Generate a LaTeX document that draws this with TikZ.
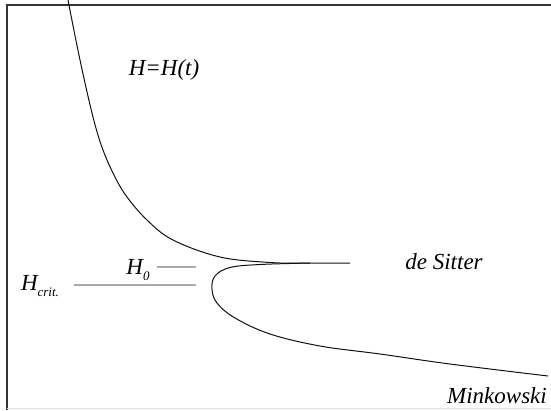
\documentclass[tikz,border=0pt]{standalone}
\usepackage{fontspec}
\setmainfont{Liberation Serif}
\definecolor{ink}{HTML}{111111}
\definecolor{rule}{HTML}{AAAAAA}
\newcommand{\lowsub}[1]{\raisebox{-0.55ex}{\fontsize{13}{14}\selectfont #1}}
\tikzset{
  lbl/.style={font=\fontsize{23}{26}\selectfont\itshape,inner sep=0pt},
  branch/.style={draw=ink,line width=1pt},
  level/.style={draw=rule,line width=1.2pt}
}

\begin{document}
\begin{tikzpicture}[x=1pt,y=-1pt]
  \useasboundingbox (0,0) rectangle (551,410);
  % frame
  \draw[line width=2pt,draw=ink!85] (7,410) -- (7,5) -- (551,5);
  \draw[line width=0.8pt,draw=black!12] (7,408.5) -- (551,408.5);

  % labels
  \node[lbl] (hubble) at (164,70) {H=H(t)};
  \node[lbl] (sitter) at (444,262) {de Sitter};
  \node[lbl,anchor=east] (minkowski) at (547,396) {Minkowski};
  \node[lbl] (hzero) at (138,270) {H\lowsub{0}};
  \node[lbl] (hcrit) at (40,286) {H\lowsub{crit.}};

  % levels
  \coordinate (hzerostart) at (157,267);
  \coordinate (hzeroend) at (196,267);
  \coordinate (hcritstart) at (74,285);
  \coordinate (hcritend) at (196,285);
  \draw[level] (hzerostart) -- (hzeroend);
  \draw[level] (hcritstart) -- (hcritend);

  % branches
  \draw[branch] plot[smooth,tension=0.6] coordinates {(68,0) (80,60) (93,117) (103,150)
    (115,177) (127,197) (147,220) (173,240) (220,257) (270,262.5) (300,263)}
    -- (350,263);
  \draw[branch] plot[smooth,tension=0.6] coordinates {(310,263) (260,264.5) (230,267.5)
    (215,276) (212,289) (217,303) (235,318) (270,334) (320,346) (380,354) (450,364) (548,376)};
\end{tikzpicture}
\end{document}
